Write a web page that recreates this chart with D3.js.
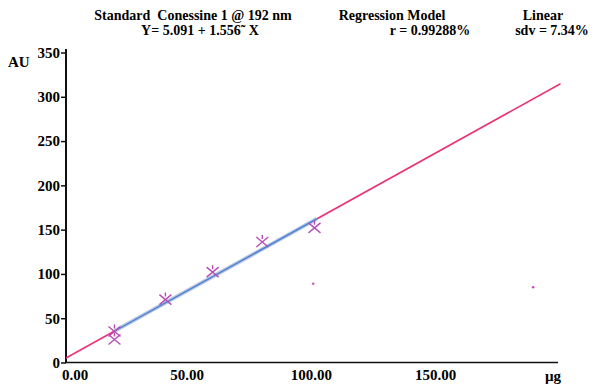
<!DOCTYPE html>
<html>
<head>
<meta charset="utf-8">
<script src="https://cdn.jsdelivr.net/npm/d3@7"></script>
<style>
  body { margin: 0; background: #fff; }
  text { font-family: "Liberation Serif", "DejaVu Serif", serif; font-weight: bold; fill: #000; }
</style>
</head>
<body>
<script>
var w = 595; // width of SVG space
var h = 385; // height of SVG space

// measured standards (amount in ug, response in AU)
var amounts = [19.5, 19.5, 40, 59, 79, 100];
var responses = [35, 26, 71, 102, 136, 152];

// regression line  Y = 5.091 + 1.556 X
var intercept = 5.091;
var slope = 1.556;
var fitRange = [0, 199];     // red line drawn over whole axis
var dataRange = [19.5, 101]; // blue line over the standards

// stray points on the plot
var strayX = [99.5, 188];
var strayY = [89, 85];

var yTicks = [0, 50, 100, 150, 200, 250, 300, 350];
var xTicks = [0, 50, 100, 150];
var xTickLabels = ["0.00", "50.00", "100.00", "150.00"];

var headerLine1 = ["Standard  Conessine 1 @ 192 nm", "Regression Model", "Linear"];
var headerLine2 = ["Y= 5.091 + 1.556\u02dc X", "r = 0.99288%", "sdv = 7.34%"];

var svg = d3.select("body").append("svg").attr("width", w).attr("height", h);

var x = d3.scaleLinear().domain([0, 198]).range([66, 558]);
var y = d3.scaleLinear().domain([0, 350]).range([362.5, 52.5]);

// header text
var head1X = [193, 392, 543];
var head2X = [200, 430, 552];
svg.selectAll("text.h1").data(headerLine1).enter().append("text")
  .attr("class", "h1")
  .attr("x", function (d, i) { return head1X[i]; })
  .attr("y", 20)
  .attr("text-anchor", "middle")
  .style("font-size", "14px")
  .style("white-space", "pre")
  .text(function (d) { return d; });
svg.selectAll("text.h2").data(headerLine2).enter().append("text")
  .attr("class", "h2")
  .attr("x", function (d, i) { return head2X[i]; })
  .attr("y", 35)
  .attr("text-anchor", "middle")
  .style("font-size", "14px")
  .text(function (d) { return d; });

// y axis
var yAxis = d3.axisLeft(y).tickValues(yTicks).tickSize(5).tickPadding(1);
var gy = svg.append("g").attr("transform", "translate(66,0)").call(yAxis)
  .attr("font-family", null).attr("font-size", null);
gy.select(".domain").attr("d", "M0,49V362.5").attr("stroke", "#111").attr("stroke-width", 2);
gy.selectAll(".tick line").attr("stroke", "#111").attr("stroke-width", 1.5);
gy.selectAll(".tick text").style("font-size", "15px").attr("fill", "#000");

// x axis
var gx = svg.append("g").attr("transform", "translate(0,362.5)");
gx.append("line").attr("x1", 65).attr("x2", 558).attr("stroke", "#111").attr("stroke-width", 1.6);
gx.selectAll("text").data(xTicks).enter().append("text")
  .attr("x", function (d, i) { return i == 0 ? x(d) - 4 : x(d) - 3; })
  .attr("y", 17)
  .attr("text-anchor", function (d, i) { return i == 0 ? "start" : "middle"; })
  .style("font-size", "15px")
  .text(function (d, i) { return xTickLabels[i]; });

svg.append("text").attr("x", 553).attr("y", 381).attr("text-anchor", "middle")
  .style("font-size", "15px").text("\u00b5g");
svg.append("text").attr("x", 8).attr("y", 67).style("font-size", "15px").text("AU");

// regression line (red)
var line = d3.line().x(function (d) { return x(d); }).y(function (d) { return y(intercept + slope * d); });
svg.append("path").datum(fitRange).attr("d", line)
  .attr("fill", "none").attr("stroke", "#ec3377").attr("stroke-width", 1.6);

// blue segment over data range
svg.append("path").datum(dataRange).attr("d", line)
  .attr("fill", "none").attr("stroke", "#c3cbe0").attr("stroke-width", 4);
svg.append("path").datum(dataRange).attr("d", line)
  .attr("fill", "none").attr("stroke", "#4f86d6").attr("stroke-width", 1.6);

// cross markers
var pts = amounts.map(function (d, i) { return [d, responses[i]]; });
var cross = svg.selectAll("g.pt").data(pts).enter().append("g")
  .attr("class", "pt")
  .attr("transform", function (d) { return "translate(" + x(d[0]) + "," + y(d[1]) + ")"; });
cross.append("path")
  .attr("d", "M-6,-5L6,5M-6,5L6,-5M0,-7V-3")
  .attr("stroke", "#b54fb5").attr("stroke-width", 1.4).attr("fill", "none");

// stray dots
svg.selectAll("circle.stray").data(strayX).enter().append("circle")
  .attr("class", "stray")
  .attr("cx", function (d) { return x(d); })
  .attr("cy", function (d, i) { return y(strayY[i]); })
  .attr("r", 1.2)
  .style("fill", "#d040b0");
</script>
</body>
</html>
